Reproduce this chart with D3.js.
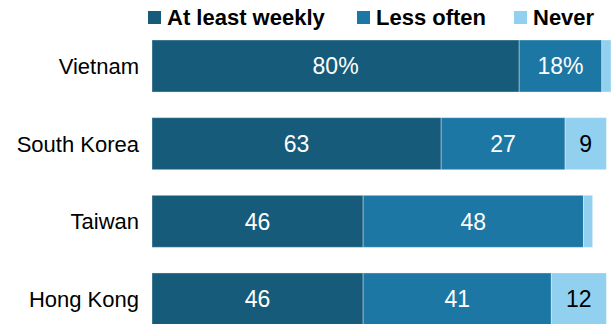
<!DOCTYPE html>
<html>
<head>
<meta charset="utf-8">
<script src="https://cdn.jsdelivr.net/npm/d3@7"></script>
<style>
  html, body { margin: 0; padding: 0; background: #fff; }
  svg { display: block; font-family: "Liberation Sans", Arial, sans-serif; }
</style>
</head>
<body>
<svg id="chart" width="611" height="324"></svg>
<script>
// Frequency of use, % of adults
const countries = ["Vietnam", "South Korea", "Taiwan", "Hong Kong"];
const seriesNames = ["At least weekly", "Less often", "Never"];
const atLeastWeekly = [80, 63, 46, 46];
const lessOften = [18, 27, 48, 41];
const never = [2, 9, 2, 12];
const valueLabels = [
  ["80%", "18%", ""],
  ["63", "27", "9"],
  ["46", "48", ""],
  ["46", "41", "12"]
];
const colors = ["#165b7a", "#1d77a4", "#91d0ee"];
const textColors = ["#ffffff", "#ffffff", "#000000"];

const svg = d3.select("#chart");

const x = d3.scaleLinear().domain([0, 100]).range([152, 611]);
const y = d3.scaleBand().domain(countries).range([40, 325]).paddingInner(0.33).paddingOuter(0);

const rows = countries.map((c, i) => ({
  country: c,
  values: [atLeastWeekly[i], lessOften[i], never[i]],
  labels: valueLabels[i]
}));

// Stacked segments
rows.forEach(row => {
  let acc = 0;
  row.values.forEach((v, k) => {
    const x0 = acc, x1 = acc + v;
    acc = x1;
    svg.append("rect")
      .attr("x", x(x0))
      .attr("y", y(row.country))
      .attr("width", x(x1) - x(x0))
      .attr("height", y.bandwidth())
      .attr("fill", colors[k])
      .attr("stroke", "#ffffff")
      .attr("stroke-opacity", 0.35)
      .attr("stroke-width", 1);
    if (row.labels[k]) {
      svg.append("text")
        .attr("x", (x(x0) + x(x1)) / 2)
        .attr("y", y(row.country) + y.bandwidth() / 2)
        .attr("dy", "0.36em")
        .attr("text-anchor", "middle")
        .attr("font-size", 23)
        .attr("fill", textColors[k])
        .text(row.labels[k]);
    }
  });
});

// Category axis labels
svg.append("g")
  .selectAll("text")
  .data(countries)
  .join("text")
  .attr("x", 139)
  .attr("y", d => y(d) + y.bandwidth() / 2)
  .attr("dy", "0.36em")
  .attr("text-anchor", "end")
  .attr("font-size", 22)
  .attr("fill", "#000")
  .text(d => d);

// Legend
const legendX = [148, 357, 514];
const legend = svg.append("g")
  .selectAll("g")
  .data(seriesNames)
  .join("g")
  .attr("transform", (d, i) => `translate(${legendX[i]},0)`);
legend.append("rect")
  .attr("x", 0).attr("y", 11)
  .attr("width", 13).attr("height", 13)
  .attr("fill", (d, i) => colors[i]);
legend.append("text")
  .attr("x", 19).attr("y", 25)
  .attr("font-size", 22)
  .attr("font-weight", "bold")
  .attr("fill", "#000")
  .text(d => d);
</script>
</body>
</html>
